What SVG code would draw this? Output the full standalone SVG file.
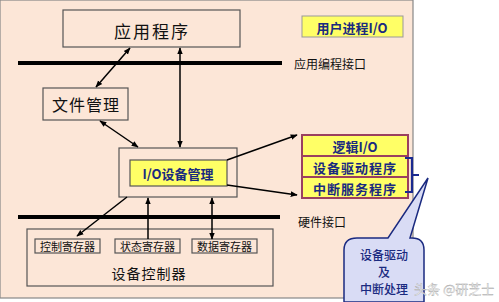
<svg xmlns="http://www.w3.org/2000/svg" width="499" height="302" viewBox="0 0 499 302">
<defs>
<marker id="ah" viewBox="0 0 10 10" refX="9" refY="5" markerWidth="7" markerHeight="7" orient="auto-start-reverse" markerUnits="userSpaceOnUse">
<path d="M0,1 L10,5 L0,9 z" fill="#000"/>
</marker>
<style>
.box{fill:#fce6d7;stroke:#555;stroke-width:1.2}
.t{font-family:"Noto Sans CJK SC","Noto Sans",sans-serif;fill:#111;text-anchor:middle;dominant-baseline:central}
.yb{fill:#ffff66;stroke:#9a4060;stroke-width:2}
.bt{font-family:"Noto Sans CJK SC","Noto Sans",sans-serif;fill:#1a2a80;font-weight:bold;text-anchor:middle;dominant-baseline:central}
.ct{font-family:"Noto Sans CJK SC","Noto Sans",sans-serif;fill:#1a2a80;font-weight:500;text-anchor:middle;dominant-baseline:central;font-size:12px}
.bar{stroke:#000;stroke-width:4}
.ar{stroke:#000;stroke-width:1.5;fill:none}
</style>
</defs>
<rect x="0" y="0" width="499" height="302" fill="#fff"/>
<rect x="0" y="0" width="413" height="298" fill="#fce6d7" stroke="#888" stroke-width="1.2"/>
<g id="api-bar"><line class="bar" x1="18" y1="63" x2="282" y2="63"/><text class="t" x="330" y="63" font-size="12">应用编程接口</text></g>
<g id="hw-bar"><line class="bar" x1="18" y1="217" x2="280" y2="217"/><text class="t" x="322" y="221" font-size="12">硬件接口</text></g>
<g id="app"><rect class="box" x="63" y="10" width="177" height="37"/><text class="t" x="152" y="30" font-size="17" letter-spacing="2">应用程序</text></g>
<g id="user-io"><rect x="302" y="16" width="101" height="21" fill="#ffff66" stroke="#999" stroke-width="1"/><text class="bt" x="352" y="27" font-size="13">用户进程I/O</text></g>
<g id="file"><rect class="box" x="43" y="88" width="85" height="32"/><text class="t" x="86" y="104" font-size="16" letter-spacing="1">文件管理</text></g>
<g id="iodev"><rect class="box" x="119" y="148" width="118" height="49"/><rect x="130" y="160" width="97" height="26" fill="#ffff66" stroke="#555" stroke-width="1.2"/><text class="bt" x="178" y="173" font-size="13">I/O设备管理</text></g>
<g id="stack">
<rect class="yb" x="302" y="135" width="106" height="21"/><text class="bt" x="355" y="146" font-size="13">逻辑I/O</text>
<rect class="yb" x="302" y="156" width="106" height="21"/><text class="bt" x="355" y="167" font-size="13" letter-spacing="1">设备驱动程序</text>
<rect class="yb" x="302" y="177" width="106" height="21"/><text class="bt" x="355" y="188" font-size="13" letter-spacing="1">中断服务程序</text>
</g>
<g id="bracket"><path d="M405,158 H412 V192 H405 M412,175 H419" fill="none" stroke="#1a2a90" stroke-width="2.2"/></g>
<g id="ctrl">
<rect class="box" x="27" y="229" width="246" height="57"/>
<rect class="box" x="35" y="239" width="65" height="14"/><text class="t" x="67.5" y="246" font-size="11">控制寄存器</text>
<rect class="box" x="115" y="239" width="65" height="14"/><text class="t" x="147.5" y="246" font-size="11">状态寄存器</text>
<rect class="box" x="192" y="239" width="65" height="14"/><text class="t" x="224.5" y="246" font-size="11">数据寄存器</text>
<text class="t" x="149" y="273" font-size="14" letter-spacing="1">设备控制器</text>
</g>
<g id="callout">
<path d="M357,238 H388 L428,178 L410,238 H412 Q424,238 424,250 V302 H344 V250 Q344,238 357,238 Z" fill="#d9dcf5" stroke="#1a2a80" stroke-width="1.5"/>
<text class="ct" x="384" y="254">设备驱动</text>
<text class="ct" x="384" y="271">及</text>
<text class="ct" x="384" y="288">中断处理</text>
</g>
<g id="connectors">
<line class="ar" x1="130" y1="48" x2="96" y2="87" marker-start="url(#ah)" marker-end="url(#ah)"/>
<line class="ar" x1="180" y1="48" x2="180" y2="147" marker-start="url(#ah)" marker-end="url(#ah)"/>
<line class="ar" x1="100" y1="121" x2="138" y2="147" marker-start="url(#ah)" marker-end="url(#ah)"/>
<line class="ar" x1="227" y1="160" x2="297" y2="135" marker-end="url(#ah)"/>
<line class="ar" x1="227" y1="185" x2="297" y2="195" marker-end="url(#ah)"/>
<line class="ar" x1="127" y1="197" x2="77" y2="236" marker-end="url(#ah)"/>
<line class="ar" x1="148" y1="239" x2="148" y2="198" marker-end="url(#ah)"/>
<line class="ar" x1="212" y1="198" x2="212" y2="239" marker-start="url(#ah)" marker-end="url(#ah)"/>
</g>
<text x="414" y="288" font-family="'Noto Sans CJK SC',sans-serif" font-size="13" fill="#f4f4f4" stroke="#999" stroke-width="0.3" dominant-baseline="central">头条 @研芝士</text>
</svg>
